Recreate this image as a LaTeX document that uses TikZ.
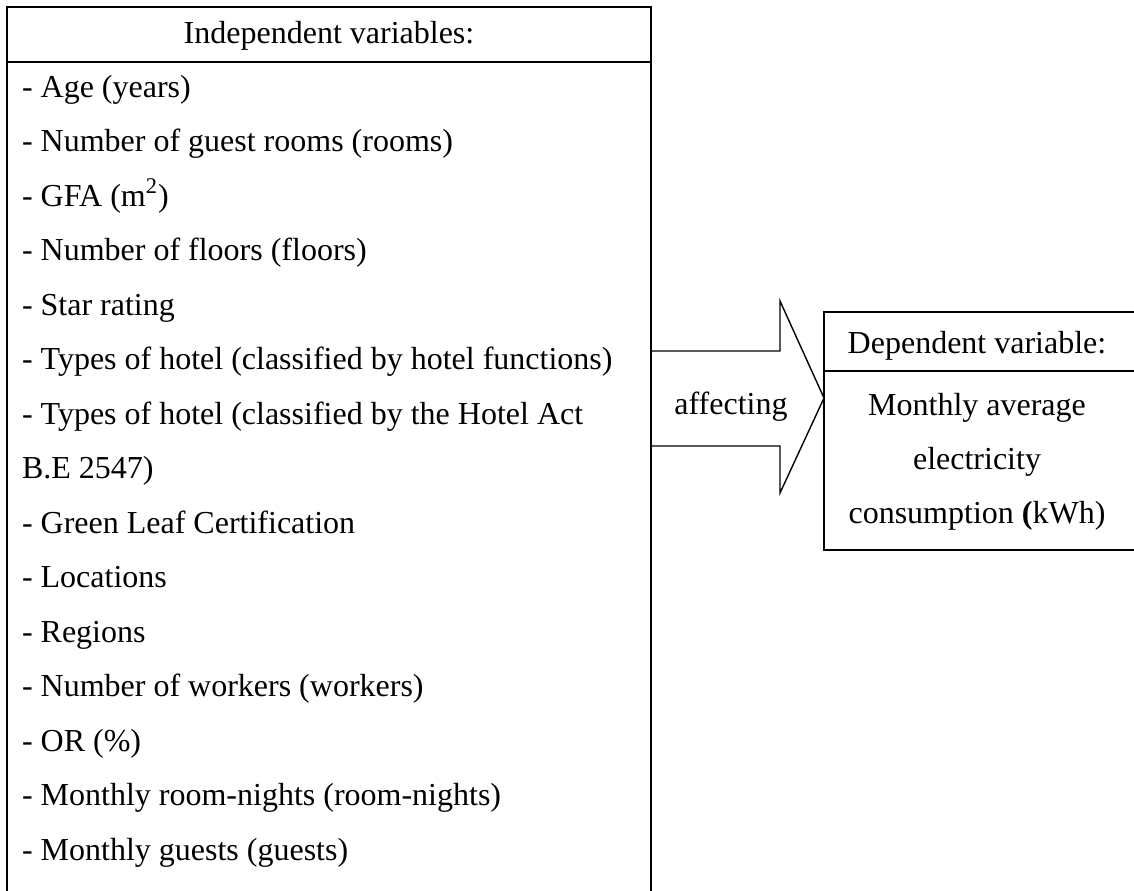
\documentclass[tikz,border=0pt]{standalone}
\usepackage{fontspec}
\setmainfont{Liberation Serif}
\begin{document}
\begin{tikzpicture}[x=0.5pt,y=-0.5pt,
  frame/.style={draw=black,line width=1.1pt},
  thin/.style={draw=black,line width=0.7pt},
  txt/.style={inner sep=0pt,outer sep=0pt,font=\fontsize{16pt}{18pt}\selectfont},
  item/.style={txt,anchor=base west}]
\useasboundingbox (0,0) rectangle (1134,890);
\begin{scope}
\clip (0,0) rectangle (1134,890);
% left box
\draw[frame] (7,910) -- (7,7) -- (651,7) -- (651,910);
\draw[frame] (7,62) -- (651,62);
\node[txt,anchor=base] (hdr) at (329,43) {Independent variables:};
\foreach \t [count=\i from 0] in {%
  {- Age (years)},
  {- Number of guest rooms (rooms)},
  {- GFA (m\textsuperscript{2})},
  {- Number of floors (floors)},
  {- Star rating},
  {- Types of hotel (classified by hotel functions)},
  {- Types of hotel (classified by the Hotel Act},
  {B.E 2547)},
  {- Green Leaf Certification},
  {- Locations},
  {- Regions},
  {- Number of workers (workers)},
  {- OR (\%)},
  {- Monthly room-nights (room-nights)},
  {- Monthly guests (guests)}}
  {\node[item] (it\i) at (22,{97+54.5*\i}) {\t};}
% arrow
\coordinate (a0) at (652,351);
\coordinate (a1) at (780,351);
\coordinate (a2) at (780,301);
\coordinate (tip) at (824,398);
\coordinate (a3) at (780,493);
\coordinate (a4) at (780,446);
\coordinate (a5) at (652,446);
\draw[thin,line join=miter] (a0) -- (a1) -- (a2) -- (tip) -- (a3) -- (a4) -- (a5);
\node[txt,anchor=base] (aff) at (731,414) {affecting};
% right box
\draw[frame] (1150,312) -- (824,312) -- (824,550) -- (1150,550);
\draw[frame] (824,371) -- (1150,371);
\node[txt,anchor=base] (dhdr) at (977,353) {Dependent variable:};
\node[txt,anchor=base] (d1) at (977,415) {Monthly average};
\node[txt,anchor=base] (d2) at (977,469) {electricity};
\node[txt,anchor=base] (d3) at (977,523) {consumption \textbf{(}kWh)};
\end{scope}
\end{tikzpicture}
\end{document}
